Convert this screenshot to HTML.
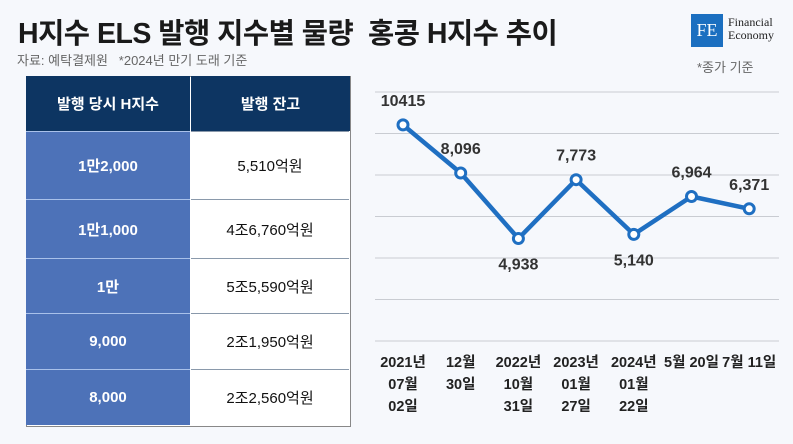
<!DOCTYPE html>
<html><head><meta charset="utf-8"><style>
body{margin:0;width:793px;height:444px;background:#f6f8fc;position:relative;overflow:hidden;font-family:"Liberation Sans","Noto Sans CJK KR",sans-serif;}
.abs{position:absolute;}
.cell{position:absolute;display:flex;align-items:center;justify-content:center;font-size:15px;}
</style></head><body>
<div class="abs" style="left:18px;top:11px;font-size:28.5px;font-weight:bold;color:#1a1a1a;letter-spacing:-0.5px;white-space:nowrap">H지수 ELS 발행 지수별 물량&nbsp;&nbsp;홍콩 H지수 추이</div>
<div class="abs" style="left:17px;top:50px;font-size:13px;color:#666;white-space:nowrap">자료: 예탁결제원&nbsp;&nbsp;&nbsp;*2024년 만기 도래 기준</div>
<div class="abs" style="left:691px;top:14px;width:32px;height:33px;background:#1b6fc0;color:#fff;font-family:'Liberation Serif',serif;font-size:18px;display:flex;align-items:center;justify-content:center">FE</div>
<div class="abs" style="left:728px;top:16px;font-family:'Liberation Serif',serif;font-size:12px;line-height:13px;color:#222">Financial<br>Economy</div>
<div class="abs" style="left:697px;top:57px;font-size:13px;color:#666">*종가 기준</div>

<div class="abs" style="left:26px;top:76px;width:323px;height:349px;background:#fff;border:1px solid #888"></div>
<div class="cell" style="left:26px;top:76px;width:164px;height:55px;background:#0d3562;color:#fff;font-weight:bold">발행 당시 H지수</div>
<div class="cell" style="left:191px;top:76px;width:159px;height:55px;background:#0d3562;color:#fff;font-weight:bold">발행 잔고</div>
<div id="rows"></div>

<svg class="abs" style="left:0;top:0" width="793" height="444" id="chart"></svg>
<script>
const rowIdx=["1만2,000","1만1,000","1만","9,000","8,000"];
const rowBal=["5,510억원","4조6,760억원","5조5,590억원","2조1,950억원","2조2,560억원"];
const rowY=[131,199,258,313,369,425];
const rc=document.getElementById('rows');
rowIdx.forEach((t,i)=>{
  const h=rowY[i+1]-rowY[i];
  const a=document.createElement('div');a.className='cell';
  
  
  a.style.cssText=`left:26px;top:${rowY[i]}px;width:164px;height:${h-1}px;background:#4d72b8;color:#fff;font-weight:bold;border-top:1px solid #a9c1ea`;
  a.textContent=t;rc.appendChild(a);
  const b=document.createElement('div');b.className='cell';
  
  
  b.style.cssText=`left:191px;top:${rowY[i]}px;width:158px;height:${h-1}px;background:#fff;color:#111;border-top:1px solid #8a99ab`;
  b.textContent=rowBal[i];rc.appendChild(b);
});

const values=[10415,8096,4938,7773,5140,6964,6371];
const valueLabels=["10415","8,096","4,938","7,773","5,140","6,964","6,371"];
const labelAbove=[true,true,false,true,false,true,true];
const xLabels=[["2021년","07월","02일"],["12월","30일"],["2022년","10월","31일"],["2023년","01월","27일"],["2024년","01월","22일"],["5월 20일"],["7월 11일"]];
const gridTicks=[0,2000,4000,6000,8000,10000,12000];
const NS="http://www.w3.org/2000/svg";
const svg=document.getElementById('chart');
const y=v=>341-v*(249/12000);
const x=i=>403+i*57.7;
function el(n,a){const e=document.createElementNS(NS,n);for(const k in a)e.setAttribute(k,a[k]);svg.appendChild(e);return e;}
gridTicks.forEach(t=>{const g=el('line',{x1:375,x2:779,y1:y(t),y2:y(t),stroke:'#c9ccd2','stroke-width':1});

});
const pl=el('polyline',{points:values.map((v,i)=>x(i)+','+y(v)).join(' '),fill:'none',stroke:'#1f6fc2','stroke-width':4.5,'stroke-linejoin':'round'});


values.forEach((v,i)=>{
  const c=el('circle',{cx:x(i),cy:y(v),r:5,fill:'#fff',stroke:'#1f6fc2','stroke-width':3});
  
  
  const t=el('text',{x:x(i),y:labelAbove[i]?y(v)-19:y(v)+31,'text-anchor':'middle','font-size':16,'font-weight':'bold',fill:'#333'});
  t.textContent=valueLabels[i];
  
  
  xLabels[i].forEach((s,j)=>{
    const tx=el('text',{x:x(i),y:367+j*22,'text-anchor':'middle','font-size':14.5,'font-weight':'bold',fill:'#222'});
    tx.textContent=s;
    
    
  });
});
</script>
</body></html>
